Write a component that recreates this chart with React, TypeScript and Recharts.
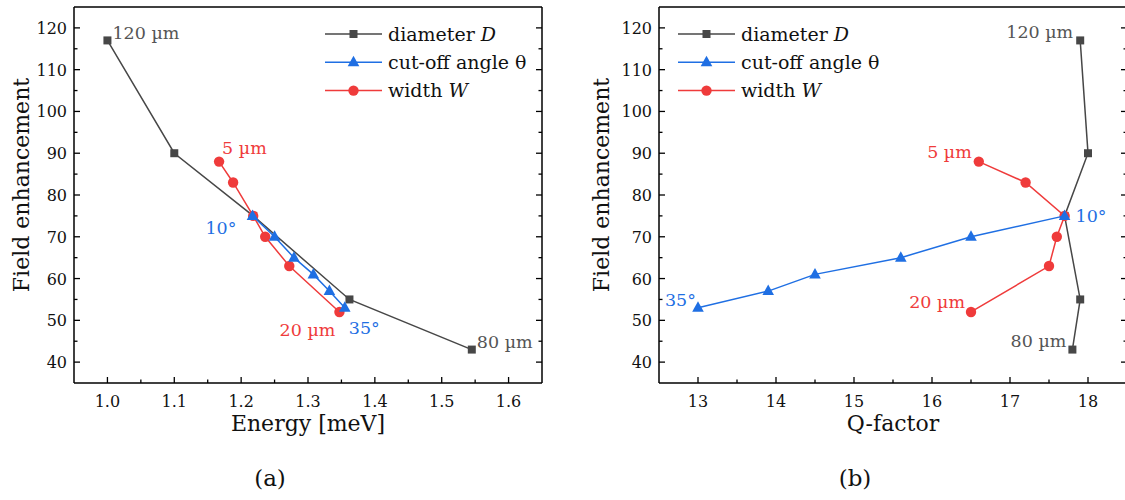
import React from 'react';
import { ScatterChart, Scatter, XAxis, YAxis, Legend } from 'recharts';

// values (field enhancement vs energy / Q-factor)
const diameterLabels = ['120 µm', '', '', '', '80 µm'];
const diameterEnergy = [1.0, 1.1, 1.218, 1.362, 1.545];
const diameterQ = [17.9, 18.0, 17.7, 17.9, 17.8];
const diameterField = [117, 90, 75, 55, 43];

const angleLabels = ['10°', '', '', '', '', '35°'];
const angleEnergy = [1.217, 1.25, 1.279, 1.308, 1.332, 1.355];
const angleQ = [17.7, 16.5, 15.6, 14.5, 13.9, 13.0];
const angleField = [75, 70, 65, 61, 57, 53];

const widthLabels = ['5 µm', '', '', '', '', '20 µm'];
const widthEnergy = [1.167, 1.188, 1.218, 1.236, 1.272, 1.347];
const widthQ = [16.6, 17.2, 17.7, 17.6, 17.5, 16.5];
const widthField = [88, 83, 75, 70, 63, 52];

const fieldMajor = [40, 50, 60, 70, 80, 90, 100, 110, 120];
const fieldMinor = [45, 55, 65, 75, 85, 95, 105, 115];
const energyMajor = [1.0, 1.1, 1.2, 1.3, 1.4, 1.5, 1.6];
const energyMinor = [1.05, 1.15, 1.25, 1.35, 1.45, 1.55];
const qMajor = [13, 14, 15, 16, 17, 18];
const qMinor = [13.5, 14.5, 15.5, 16.5, 17.5];

const FONT = '"DejaVu Serif", serif';
const GRAY = '#474747';
const BLUE = '#1f6fe3';
const RED = '#ef3b3b';

type Marker = 'square' | 'triangle' | 'circle';
type Anchor = 'start' | 'end';
type LabelPos = Record<string, [number, number, Anchor]>;

const series = [
  { id: 'D', name: 'diameter ', sym: 'D', color: GRAY, text: '#555', marker: 'square' as Marker, energy: diameterEnergy, q: diameterQ, field: diameterField, labels: diameterLabels },
  { id: 'W', name: 'width ', sym: 'W', color: RED, text: RED, marker: 'circle' as Marker, energy: widthEnergy, q: widthQ, field: widthField, labels: widthLabels },
  { id: 'T', name: 'cut-off angle θ', sym: '', color: BLUE, text: BLUE, marker: 'triangle' as Marker, energy: angleEnergy, q: angleQ, field: angleField, labels: angleLabels },
];
const legendOrder = ['D', 'T', 'W'];

const energyLabelPos: LabelPos = {
  '120 µm': [5, -1, 'start'],
  '80 µm': [5, -2, 'start'],
  '5 µm': [3, -8, 'start'],
  '20 µm': [-4, 24, 'end'],
  '10°': [-16, 18, 'end'],
  '35°': [4, 26, 'start'],
};
const qLabelPos: LabelPos = {
  '120 µm': [-7, -2, 'end'],
  '80 µm': [-6, -3, 'end'],
  '5 µm': [-7, -4, 'end'],
  '20 µm': [-6, -4, 'end'],
  '10°': [11, 6, 'start'],
  '35°': [-2, -2, 'end'],
};

const drawMarker = (marker: Marker, cx: number, cy: number, color: string) => {
  if (marker === 'square') return <rect x={cx - 4} y={cy - 4} width={8} height={8} fill={color} />;
  if (marker === 'circle') return <circle cx={cx} cy={cy} r={5.2} fill={color} />;
  return <polygon points={`${cx},${cy - 6.5} ${cx + 5.8},${cy + 4} ${cx - 5.8},${cy + 4}`} fill={color} />;
};

const makeShape = (marker: Marker, color: string, textColor: string, pos: LabelPos) => (props: any) => {
  const { cx, cy, payload } = props;
  const p = payload && payload.label ? pos[payload.label] : null;
  return (
    <g>
      {drawMarker(marker, cx, cy, color)}
      {p && (
        <text x={cx + p[0]} y={cy + p[1]} textAnchor={p[2]} fill={textColor} fontSize={17.5} fontFamily={FONT}>
          {payload.label}
        </text>
      )}
    </g>
  );
};

type Side = 'bottom' | 'left' | 'top' | 'right';

// inward tick marks; labels only on major ticks of bottom/left axes
const makeTick = (side: Side, major: number[], fmt: (v: number) => string, margin: number) => (props: any) => {
  const { x, y, payload } = props;
  const v = payload.value;
  const isMajor = major.some((m) => Math.abs(m - v) < 1e-6);
  const len = isMajor ? 6 : 3.5;
  const st = { stroke: '#000', strokeWidth: 1.3 };
  if (side === 'bottom') {
    const ay = y - margin;
    return (
      <g>
        <line x1={x} y1={ay} x2={x} y2={ay - len} {...st} />
        {isMajor && (
          <text x={x} y={ay + 24} textAnchor="middle" fontSize={16} fontFamily={FONT} fill="#111">
            {fmt(v)}
          </text>
        )}
      </g>
    );
  }
  if (side === 'left') {
    const ax = x + margin;
    return (
      <g>
        <line x1={ax} y1={y} x2={ax + len} y2={y} {...st} />
        {isMajor && (
          <text x={ax - 7} y={y + 6} textAnchor="end" fontSize={16} fontFamily={FONT} fill="#111">
            {fmt(v)}
          </text>
        )}
      </g>
    );
  }
  if (side === 'top') return <line x1={x} y1={y} x2={x} y2={y + len} {...st} />;
  return <line x1={x} y1={y} x2={x - len} y2={y} {...st} />;
};

const LegendBox = () => (
  <svg width={240} height={92} style={{ display: 'block', overflow: 'visible' }}>
    {legendOrder.map((id, i) => {
      const s = series.find((d) => d.id === id)!;
      const cy = 16 + i * 28.3;
      return (
        <g key={id}>
          <line x1={5} y1={cy} x2={62} y2={cy} stroke={s.color} strokeWidth={1.5} />
          {drawMarker(s.marker, 33.5, cy, s.color)}
          <text x={68} y={cy + 6.5} fontSize={19} fontFamily={FONT} fill="#111">
            {s.name}
            {s.sym && <tspan fontStyle="italic">{s.sym}</tspan>}
          </text>
        </g>
      );
    })}
  </svg>
);

interface PanelProps {
  xKey: 'energy' | 'q';
  xDomain: [number, number];
  xMajor: number[];
  xMinor: number[];
  xFmt: (v: number) => string;
  labelPos: LabelPos;
  yWidth: number;
  marginRight: number;
  legendLeft: number;
}

const sortTicks = (a: number[], b: number[]) => [...a, ...b].sort((p, q) => p - q);

const Panel = ({ xKey, xDomain, xMajor, xMinor, xFmt, labelPos, yWidth, marginRight, legendLeft }: PanelProps) => {
  const xTicks = sortTicks(xMajor, xMinor);
  const yTicks = sortTicks(fieldMajor, fieldMinor);
  const yFmt = (v: number) => String(v);
  const axisLine = { stroke: '#000', strokeWidth: 1.5 };
  return (
    <ScatterChart width={560} height={430} margin={{ top: 6, right: marginRight, bottom: 17, left: 0 }}>
      <XAxis
        xAxisId="b"
        type="number"
        dataKey="x"
        domain={xDomain}
        allowDataOverflow
        ticks={xTicks}
        interval={0}
        height={30}
        tickSize={0}
        tickMargin={4}
        axisLine={axisLine}
        tick={makeTick('bottom', xMajor, xFmt, 4)}
      />
      <XAxis
        xAxisId="t"
        orientation="top"
        type="number"
        domain={xDomain}
        allowDataOverflow
        ticks={xTicks}
        interval={0}
        height={1}
        tickSize={0}
        tickMargin={0}
        axisLine={axisLine}
        tick={makeTick('top', xMajor, xFmt, 0)}
      />
      <YAxis
        yAxisId="l"
        type="number"
        dataKey="y"
        domain={[35, 125]}
        allowDataOverflow
        ticks={yTicks}
        interval={0}
        width={yWidth}
        tickSize={0}
        tickMargin={4}
        axisLine={axisLine}
        tick={makeTick('left', fieldMajor, yFmt, 4)}
      />
      <YAxis
        yAxisId="r"
        orientation="right"
        type="number"
        domain={[35, 125]}
        allowDataOverflow
        ticks={yTicks}
        interval={0}
        width={1}
        tickSize={0}
        tickMargin={0}
        axisLine={axisLine}
        tick={makeTick('right', fieldMajor, yFmt, 0)}
      />
      <Legend
        layout="vertical"
        align="center"
        verticalAlign="middle"
        wrapperStyle={{ left: legendLeft, top: 18, width: 240 }}
        content={() => <LegendBox />}
      />
      {series.map((s) => (
        <Scatter
          key={s.id}
          xAxisId="b"
          yAxisId="l"
          name={s.name + s.sym}
          data={s[xKey].map((x, i) => ({ x, y: s.field[i], label: s.labels[i] }))}
          line={{ stroke: s.color, strokeWidth: 1.5 }}
          lineType="joint"
          shape={makeShape(s.marker, s.color, s.text, labelPos)}
          isAnimationActive={false}
        />
      ))}
    </ScatterChart>
  );
};

const abs = (left: number, top: number, extra: React.CSSProperties = {}): React.CSSProperties => ({
  position: 'absolute',
  left,
  top,
  transform: 'translate(-50%, -50%)',
  whiteSpace: 'nowrap',
  fontFamily: FONT,
  color: '#111',
  lineHeight: 1,
  ...extra,
});

export default function App() {
  return (
    <div style={{ position: 'absolute', left: 0, top: 0, width: 1125, height: 500, overflow: 'hidden', background: '#fff' }}>
      <div style={{ position: 'absolute', left: 0, top: 0 }}>
        <Panel
          xKey="energy"
          xDomain={[0.95, 1.65]}
          xMajor={energyMajor}
          xMinor={energyMinor}
          xFmt={(v) => v.toFixed(1)}
          labelPos={energyLabelPos}
          yWidth={74}
          marginRight={17}
          legendLeft={320}
        />
      </div>
      <div style={{ position: 'absolute', left: 580, top: 0 }}>
        <Panel
          xKey="q"
          xDomain={[12.5, 18.5]}
          xMajor={qMajor}
          xMinor={qMinor}
          xFmt={(v) => String(v)}
          labelPos={qLabelPos}
          yWidth={79}
          marginRight={12}
          legendLeft={93}
        />
      </div>
      <span style={abs(22, 185, { fontSize: 22, transform: 'translate(-50%, -50%) rotate(-90deg)' })}>Field enhancement</span>
      <span style={abs(602, 185, { fontSize: 22, transform: 'translate(-50%, -50%) rotate(-90deg)' })}>Field enhancement</span>
      <span style={abs(308, 424, { fontSize: 22 })}>Energy [meV]</span>
      <span style={abs(893, 424, { fontSize: 22 })}>Q-factor</span>
      <span style={abs(270, 478, { fontSize: 23 })}>(a)</span>
      <span style={abs(855, 478, { fontSize: 23 })}>(b)</span>
    </div>
  );
}
